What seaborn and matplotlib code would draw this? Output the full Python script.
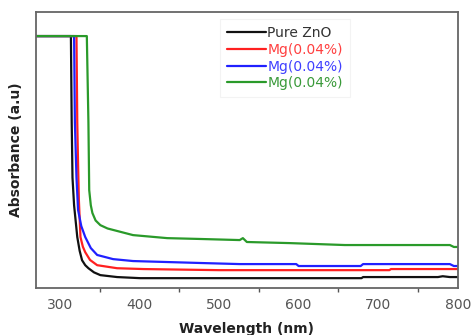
import matplotlib
matplotlib.use("Agg")
import matplotlib.pyplot as plt
import seaborn as sns
import pandas as pd
from matplotlib.ticker import MultipleLocator

series_names = ["Pure ZnO", "Mg(0.04%) a", "Mg(0.04%) b", "Mg(0.04%) c"]
legend_labels = ["Pure ZnO", "Mg(0.04%)", "Mg(0.04%)", "Mg(0.04%)"]
colors = ["#111111", "#ff2020", "#2020ff", "#2a9a2a"]

wl_black = [270, 314, 315, 316, 318, 322, 325, 328, 332, 336, 343, 351, 372, 401, 500, 600, 679, 681, 775, 781, 790, 800]
ab_black = [0.913, 0.913, 0.6, 0.4, 0.3, 0.185, 0.135, 0.101, 0.083, 0.072, 0.057, 0.047, 0.040, 0.036, 0.036, 0.036, 0.036, 0.040, 0.040, 0.043, 0.040, 0.040]

wl_red = [270, 321, 322, 323, 324, 326, 329, 332, 338, 347, 372, 405, 500, 600, 714, 716, 800]
ab_red = [0.913, 0.913, 0.6, 0.45, 0.32, 0.185, 0.150, 0.130, 0.102, 0.083, 0.072, 0.069, 0.065, 0.065, 0.065, 0.069, 0.069]

wl_blue = [270, 318, 319, 321, 323, 327, 332, 339, 347, 367, 392, 476, 526, 597, 600, 678, 681, 790, 795, 800]
ab_blue = [0.913, 0.913, 0.6, 0.4, 0.283, 0.225, 0.185, 0.145, 0.120, 0.105, 0.098, 0.091, 0.087, 0.087, 0.080, 0.080, 0.087, 0.087, 0.080, 0.080]

wl_green = [270, 334, 336, 337, 339, 341, 345, 351, 360, 372, 392, 435, 476, 526, 530, 535, 589, 658, 790, 795, 800]
ab_green = [0.913, 0.913, 0.6, 0.355, 0.300, 0.272, 0.245, 0.228, 0.216, 0.207, 0.192, 0.181, 0.178, 0.174, 0.181, 0.167, 0.163, 0.156, 0.156, 0.149, 0.149]

frames = []
for name, wl, ab in zip(series_names,
                        [wl_black, wl_red, wl_blue, wl_green],
                        [ab_black, ab_red, ab_blue, ab_green]):
    frames.append(pd.DataFrame({"wl": wl, "ab": ab, "s": name}))
df = pd.concat(frames, ignore_index=True)

sns.set_theme(style="white")
plt.rcParams['font.family'] = ['DejaVu Sans']

fig = plt.figure(figsize=(4.72, 3.35), dpi=100)
ax = fig.add_axes([0.076, 0.140, 0.894, 0.824])

sns.lineplot(data=df, x="wl", y="ab", hue="s", palette=colors,
             estimator=None, sort=False, linewidth=1.6, ax=ax, legend=False)

ax.set_xlim(270, 800)
ax.set_ylim(0, 1)
ax.xaxis.set_major_locator(MultipleLocator(100))
ax.xaxis.set_minor_locator(MultipleLocator(50))
ax.tick_params(axis="x", which="major", direction="out", length=4, width=1,
               color="#555555", labelsize=10, labelcolor="#555555", pad=3)
ax.tick_params(axis="x", which="minor", direction="out", length=3, width=1,
               color="#555555", bottom=True)
ax.set_yticks([])
for sp in ax.spines.values():
    sp.set_color("#666666")
    sp.set_linewidth(1.3)

ax.set_xlabel("Wavelength (nm)", fontsize=10, fontweight="bold", color="#222222", labelpad=7)
ax.set_ylabel("Absorbance (a.u)", fontsize=10, fontweight="bold", color="#222222", labelpad=9)

handles = [plt.Line2D([], [], color=c, linewidth=1.6) for c in colors]
leg = ax.legend(handles, legend_labels, loc="upper left", bbox_to_anchor=(0.42, 1.0),
                frameon=True, fontsize=10, handlelength=2.8, handletextpad=0.1,
                labelspacing=0.2, borderpad=0.5, fancybox=False)
leg.get_frame().set_edgecolor("#f0f0f0")
leg.get_frame().set_linewidth(0.8)
for t, c in zip(leg.get_texts(), ["#333333", "#ff4040", "#4040ff", "#3a9a3a"]):
    t.set_color(c)

fig.savefig("out.png", dpi=100)
